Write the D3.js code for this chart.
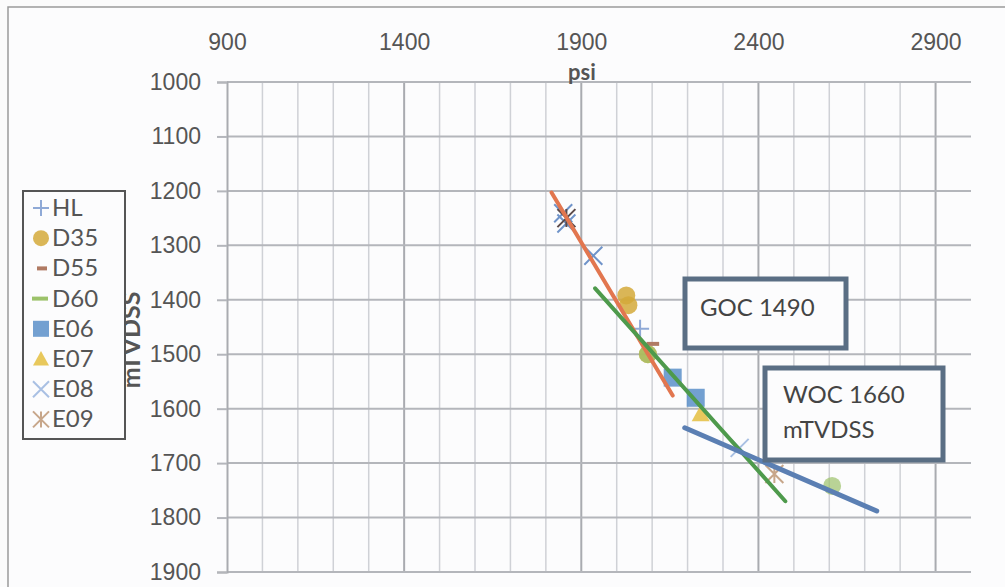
<!DOCTYPE html>
<html>
<head>
<meta charset="utf-8">
<script src="https://cdn.jsdelivr.net/npm/d3@7"></script>
<style>
  body { margin: 0; background: #fbfbfb; }
  svg { display: block; font-family: Lato, "Open Sans", sans-serif; }
</style>
</head>
<body>
<div id="chart"></div>
<script>
// Data: [psi, mTVDSS]
var HL  = [[2066, 1453]]
var D35 = [[2027, 1392], [2033, 1410], [2088, 1500]]
var D55 = [[2102, 1481]]
var D60 = [[2088, 1500], [2608, 1742]]
var E06 = [[2158, 1543], [2223, 1580]]
var E07 = [[2237, 1610]]
var E08 = [[1849, 1241], [1858, 1260], [1934, 1319], [2347, 1672]]
var E09 = [[1858, 1250], [2445, 1720]]

// trend lines
var trendRed   = [[1816, 1203], [2158, 1576]]
var trendGreen = [[1939, 1379], [2476, 1770]]
var trendBlue  = [[2192, 1635], [2734, 1788]]

var xTicks = [900, 1400, 1900, 2400, 2900]
var yTicks = [1000, 1100, 1200, 1300, 1400, 1500, 1600, 1700, 1800, 1900]
var legendNames = ['HL', 'D35', 'D55', 'D60', 'E06', 'E07', 'E08', 'E09']

var width = 1005, height = 587

var svg = d3.select('#chart').append('svg')
  .attr('width', width)
  .attr('height', height)

// outer frame
svg.append('rect')
  .attr('x', 8).attr('y', 7)
  .attr('width', 1010).attr('height', 600)
  .attr('fill', '#fcfcfd')
  .attr('stroke', '#9a9a9a')
  .attr('stroke-width', 1.5)

var xScale = d3.scaleLinear().domain([900, 3000]).range([227, 971])
var yScale = d3.scaleLinear().domain([1000, 1900]).range([82, 572])

// grid: vertical every 100 psi, darker every 500
var gridX = d3.range(1000, 3000, 100)
svg.append('g').selectAll('line')
  .data(gridX)
  .enter().append('line')
  .attr('x1', function(d) { return xScale(d) })
  .attr('x2', function(d) { return xScale(d) })
  .attr('y1', yScale(1000))
  .attr('y2', yScale(1900))
  .attr('stroke', function(d) { return (d - 900) % 500 === 0 ? '#a9abb0' : '#cfd1d6' })
  .attr('stroke-width', function(d) { return (d - 900) % 500 === 0 ? 2 : 1.5 })

svg.append('g').selectAll('line')
  .data(yTicks)
  .enter().append('line')
  .attr('x1', xScale(900))
  .attr('x2', xScale(3000))
  .attr('y1', function(d) { return yScale(d) })
  .attr('y2', function(d) { return yScale(d) })
  .attr('stroke', '#b4b6bb')
  .attr('stroke-width', 2)

// Y axis (left)
var yAxis = svg.append('g')
  .attr('transform', 'translate(' + xScale(900) + ',0)')
  .call(d3.axisLeft(yScale).tickValues(yTicks).tickSize(10).tickPadding(16).tickFormat(d3.format('d')))
yAxis.select('.domain').attr('stroke', '#a9abb0').attr('stroke-width', 2)
yAxis.selectAll('.tick line').attr('stroke', '#b4b6bb').attr('stroke-width', 2)
yAxis.selectAll('text').attr('font-size', 23).attr('fill', '#555')

// X axis (top)
var xAxis = svg.append('g')
  .attr('transform', 'translate(0,' + yScale(1000) + ')')
  .call(d3.axisTop(xScale).tickValues(xTicks).tickSize(0).tickPadding(32).tickFormat(d3.format('d')))
xAxis.select('.domain').remove()
xAxis.selectAll('text').attr('font-size', 23).attr('fill', '#555')

// axis titles
svg.append('text')
  .attr('x', 582).attr('y', 80)
  .attr('text-anchor', 'middle')
  .attr('font-size', 22).attr('font-weight', 'bold').attr('fill', '#555')
  .text('psi')

svg.append('text')
  .attr('transform', 'translate(140,340) rotate(-90)')
  .attr('text-anchor', 'middle')
  .attr('font-size', 25).attr('font-weight', 'bold').attr('fill', '#555')
  .text('mTVDSS')

// marker drawing
var colors = {
  HL: '#8fa9d6', D35: '#d4a93a', D55: '#b07a63', D60: '#9cc26a',
  E06: '#5b8fc9', E07: '#e6c24a', E08: '#a9c0e3', E09: '#c7a68a'
}

function drawMarker(g, name, cx, cy, s) {
  var c = colors[name]
  if (name === 'HL') {
    g.append('path').attr('d', 'M' + (cx - s) + ',' + cy + 'H' + (cx + s) + 'M' + cx + ',' + (cy - s) + 'V' + (cy + s))
      .attr('stroke', c).attr('stroke-width', 2).attr('fill', 'none')
  } else if (name === 'D35') {
    g.append('circle').attr('cx', cx).attr('cy', cy).attr('r', s).attr('fill', c).attr('opacity', 0.85)
  } else if (name === 'D55') {
    g.append('path').attr('d', 'M' + (cx - s * 0.7) + ',' + cy + 'H' + (cx + s * 0.7))
      .attr('stroke', c).attr('stroke-width', 4).attr('fill', 'none')
  } else if (name === 'D60') {
    g.append('circle').attr('cx', cx).attr('cy', cy).attr('r', s).attr('fill', c).attr('opacity', 0.7)
  } else if (name === 'E06') {
    g.append('rect').attr('x', cx - s).attr('y', cy - s).attr('width', 2 * s).attr('height', 2 * s)
      .attr('fill', c).attr('opacity', 0.85)
  } else if (name === 'E07') {
    g.append('path').attr('d', 'M' + cx + ',' + (cy - s) + 'L' + (cx + s) + ',' + (cy + s * 0.8) + 'L' + (cx - s) + ',' + (cy + s * 0.8) + 'Z')
      .attr('fill', c).attr('opacity', 0.9)
  } else if (name === 'E08') {
    g.append('path').attr('d', 'M' + (cx - s) + ',' + (cy - s) + 'L' + (cx + s) + ',' + (cy + s) + 'M' + (cx - s) + ',' + (cy + s) + 'L' + (cx + s) + ',' + (cy - s))
      .attr('stroke', c).attr('stroke-width', 2).attr('fill', 'none')
  } else if (name === 'E09') {
    g.append('path').attr('d', 'M' + (cx - s) + ',' + (cy - s) + 'L' + (cx + s) + ',' + (cy + s) + 'M' + (cx - s) + ',' + (cy + s) + 'L' + (cx + s) + ',' + (cy - s) + 'M' + cx + ',' + (cy - s) + 'V' + (cy + s))
      .attr('stroke', c).attr('stroke-width', 2).attr('fill', 'none')
  }
}

var seriesData = { HL: HL, D35: D35, D55: D55, D60: D60, E06: E06, E07: E07, E08: E08, E09: E09 }
var plotMarkers = svg.append('g')
var plotColors = { E08: '#6f93c9', E09: '#5b4a4a' }

;['D35', 'D60', 'E06', 'E07', 'HL', 'D55', 'E08', 'E09'].forEach(function(name) {
  seriesData[name].forEach(function(d, i) {
    var saved = colors[name]
    if (plotColors[name] && d[1] < 1400) colors[name] = plotColors[name]
    drawMarker(plotMarkers, name, xScale(d[0]), yScale(d[1]), 9)
    colors[name] = saved
  })
})

// trend lines
var line = d3.line()
  .x(function(d) { return xScale(d[0]) })
  .y(function(d) { return yScale(d[1]) })

svg.append('path').datum(trendRed).attr('d', line)
  .attr('stroke', '#e2764f').attr('stroke-width', 4).attr('fill', 'none').attr('stroke-linecap', 'round')
svg.append('path').datum(trendGreen).attr('d', line)
  .attr('stroke', '#4e9a4c').attr('stroke-width', 4).attr('fill', 'none').attr('stroke-linecap', 'round')
svg.append('path').datum(trendBlue).attr('d', line)
  .attr('stroke', '#5b7fb3').attr('stroke-width', 5).attr('fill', 'none').attr('stroke-linecap', 'round')

// annotation boxes
svg.append('rect')
  .attr('x', 685).attr('y', 279).attr('width', 161).attr('height', 69)
  .attr('fill', '#fcfcfd').attr('stroke', '#5a6e84').attr('stroke-width', 5)
svg.append('text')
  .attr('x', 700).attr('y', 316)
  .attr('font-size', 24).attr('fill', '#444')
  .text('GOC 1490')

svg.append('rect')
  .attr('x', 765).attr('y', 368).attr('width', 178).attr('height', 92)
  .attr('fill', '#fcfcfd').attr('stroke', '#5a6e84').attr('stroke-width', 5)
svg.append('text')
  .attr('x', 783).attr('y', 403)
  .attr('font-size', 24).attr('fill', '#444')
  .text('WOC 1660')
svg.append('text')
  .attr('x', 783).attr('y', 438)
  .attr('font-size', 24).attr('fill', '#444')
  .text('mTVDSS')

// legend
var legend = svg.append('g')
legend.append('rect')
  .attr('x', 23).attr('y', 191).attr('width', 102).attr('height', 248)
  .attr('fill', '#fcfcfd').attr('stroke', '#555').attr('stroke-width', 2)

legendNames.forEach(function(name, i) {
  var cy = 208 + i * 30.2
  if (name === 'D55') {
    legend.append('path').attr('d', 'M' + 37 + ',' + cy + 'H' + 47)
      .attr('stroke', colors[name]).attr('stroke-width', 4)
  } else if (name === 'D60') {
    legend.append('path').attr('d', 'M' + 32 + ',' + cy + 'H' + 48)
      .attr('stroke', colors[name]).attr('stroke-width', 4)
  } else {
    drawMarker(legend, name, 41, cy, 8)
  }
  legend.append('text')
    .attr('x', 52).attr('y', cy + 8)
    .attr('font-size', 24).attr('fill', '#555')
    .text(name)
})
</script>
</body>
</html>
